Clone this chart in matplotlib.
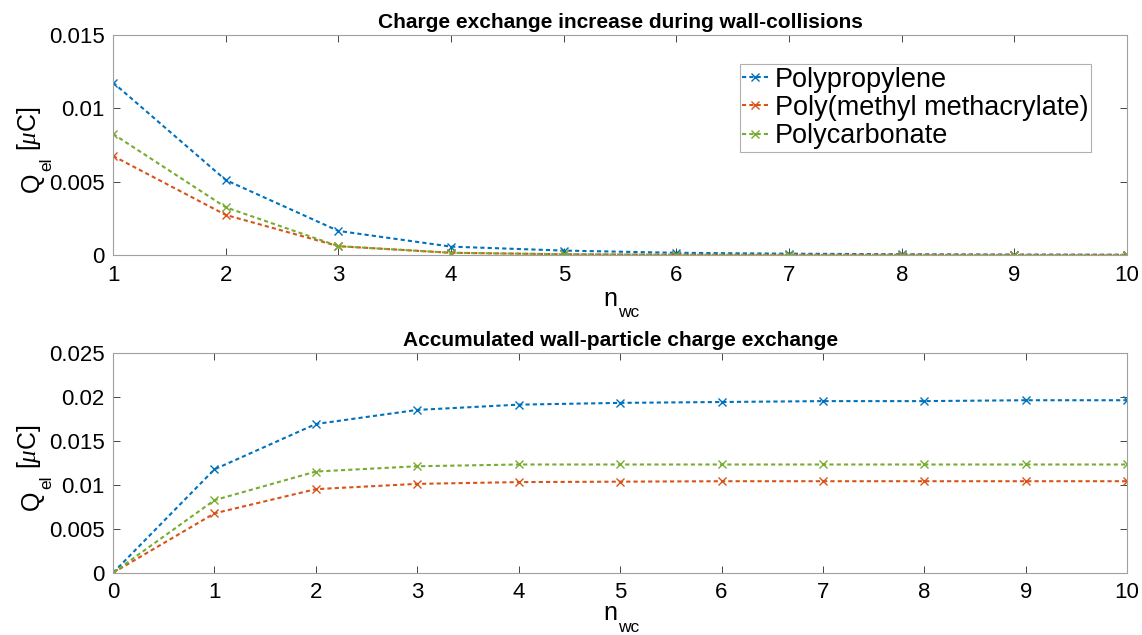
import matplotlib.pyplot as plt

plt.rcParams['font.family'] = ['Liberation Sans', 'DejaVu Sans']
plt.rcParams['mathtext.fontset'] = 'custom'
plt.rcParams['mathtext.rm'] = 'Liberation Sans'
plt.rcParams['mathtext.it'] = 'Liberation Serif:italic'

labels = ['Polypropylene', 'Poly(methyl methacrylate)', 'Polycarbonate']
colors = ['#0072BD', '#D95319', '#77AC30']

# charge exchange per wall collision
n_inc = [1, 2, 3, 4, 5, 6, 7, 8, 9, 10]
inc_pp = [0.01175, 0.00511, 0.00164, 0.00057, 0.00030, 0.00015, 0.00009, 0.00005, 0.00003, 0.00002]
inc_pmma = [0.00675, 0.00273, 0.00060, 0.00015, 0.00005, 0.00002, 0.00001, 0.00001, 0.0, 0.0]
inc_pc = [0.00825, 0.00325, 0.00060, 0.00015, 0.00005, 0.00002, 0.00001, 0.00001, 0.0, 0.0]

# accumulated charge
n_acc = [0, 1, 2, 3, 4, 5, 6, 7, 8, 9, 10]
acc_pp = [0, 0.01175, 0.0169, 0.0185, 0.0191, 0.0193, 0.0194, 0.0195, 0.0195, 0.0196, 0.0196]
acc_pmma = [0, 0.00675, 0.0095, 0.0101, 0.0103, 0.01035, 0.0104, 0.0104, 0.0104, 0.0104, 0.0104]
acc_pc = [0, 0.00825, 0.0115, 0.0121, 0.0123, 0.0123, 0.0123, 0.0123, 0.0123, 0.0123, 0.0123]

fig, (ax1, ax2) = plt.subplots(2, 1, figsize=(11.42, 6.35), dpi=100)
fig.subplots_adjust(left=0.099, right=0.987, top=0.945, bottom=0.098, hspace=0.444)

dash = (0, (2, 1.5))
for ys, c, lab in zip([inc_pp, inc_pmma, inc_pc], colors, labels):
    ax1.plot(n_inc, ys, linestyle=dash, color=c, marker='x',
             markersize=6, linewidth=1.5, label=lab)
for ys, c in zip([acc_pp, acc_pmma, acc_pc], colors):
    ax2.plot(n_acc, ys, linestyle=dash, color=c, marker='x',
             markersize=6, linewidth=1.5)

ax1.set_xlim(1, 10)
ax1.set_ylim(0, 0.015)
ax1.set_yticks([0, 0.005, 0.01, 0.015])
ax1.set_yticklabels(['0', '0.005', '0.01', '0.015'])
ax1.set_xticks(range(1, 11))
ax1.set_title('Charge exchange increase during wall-collisions',
              fontsize=15, fontweight='bold', pad=5)

ax2.set_xlim(0, 10)
ax2.set_ylim(0, 0.025)
ax2.set_yticks([0, 0.005, 0.01, 0.015, 0.02, 0.025])
ax2.set_yticklabels(['0', '0.005', '0.01', '0.015', '0.02', '0.025'])
ax2.set_xticks(range(0, 11))
ax2.set_title('Accumulated wall-particle charge exchange',
              fontsize=15, fontweight='bold', pad=5)

for ax, lpad in ((ax1, 1), (ax2, -1.5)):
    ax.tick_params(direction='in', top=True, right=True, labelsize=16,
                   color='#262626', length=5, width=0.6)
    ax.tick_params(axis='x', pad=7)
    ax.tick_params(axis='y', pad=6)
    for s in ax.spines.values():
        s.set_color('#a0a0a0')
        s.set_linewidth(0.8)

    # n_wc with a MATLAB-like low subscript
    ax.set_xlabel('n', fontsize=18, labelpad=lpad)
    ax.xaxis.label.set_x(0.49)
    ax.annotate('wc', xy=(1, 0), xycoords=ax.xaxis.label, xytext=(1, -4.5),
                textcoords='offset points', ha='left', va='baseline', fontsize=12.5)

    # Q_el [uC]
    ax.set_ylabel('Q', fontsize=18, labelpad=4)
    ax.yaxis.label.set_y(0.33)
    sub = ax.annotate('el', xy=(1, 1), xycoords=ax.yaxis.label, xytext=(8, 1),
                      textcoords='offset points', ha='right', va='bottom',
                      rotation=90, fontsize=12.5)
    ax.annotate(r'[$\mu$C]', xy=(1, 1), xycoords=(ax.yaxis.label, sub),
                xytext=(0, 5), textcoords='offset points', ha='right', va='bottom',
                rotation=90, fontsize=18)

leg = ax1.legend(loc='upper right', bbox_to_anchor=(0.9645, 0.868), fontsize=19.5,
                 fancybox=False, framealpha=1, edgecolor='#b0b0b0',
                 handlelength=0.95, handletextpad=0.25, borderpad=0.1,
                 labelspacing=0.08, borderaxespad=0)
leg.get_frame().set_linewidth(0.8)

fig.savefig('out.png', dpi=100)
